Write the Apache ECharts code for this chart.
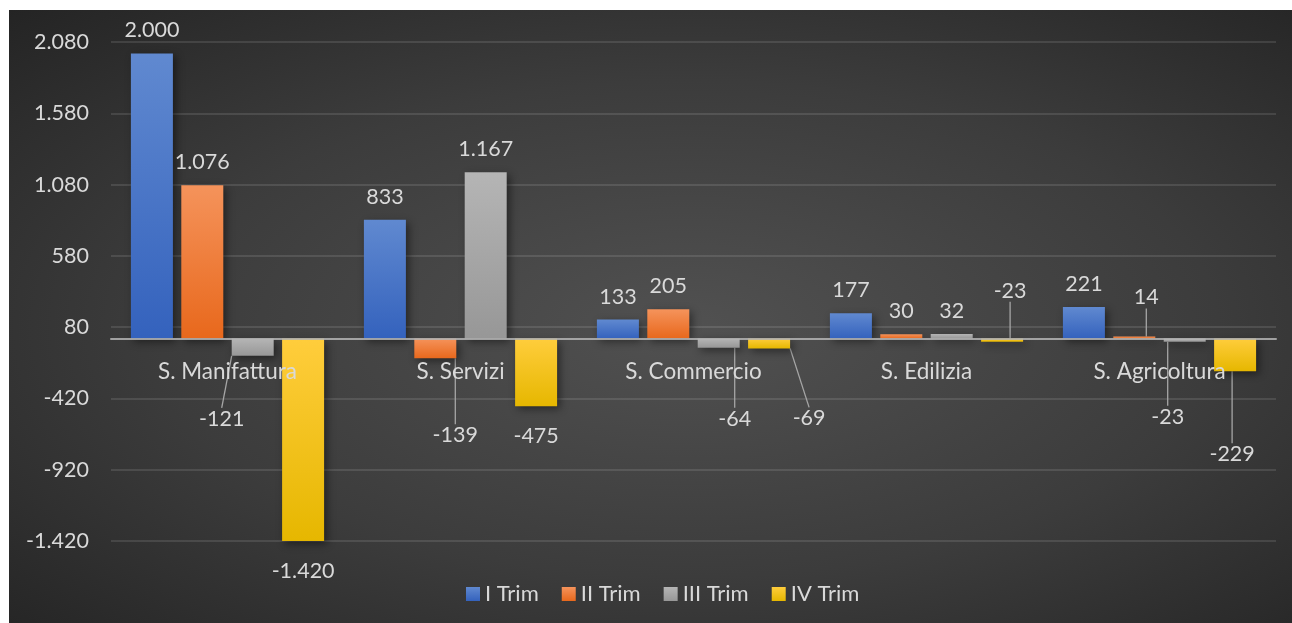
<!DOCTYPE html>
<html>
<head>
<meta charset="utf-8">
<script src="https://cdn.jsdelivr.net/npm/echarts@6/dist/echarts.min.js"></script>
<style>
  html, body { margin: 0; padding: 0; background: #fff; }
  #chart {
    position: absolute;
    left: 9px;
    top: 10px;
    width: 1283px;
    height: 613px;
    background: radial-gradient(ellipse at 53% 52%, #515151 0%, #3c3c3c 55%, #242424 100%);
  }
</style>
</head>
<body>
<div id="chart"></div>
<script>
const categories = ['S. Manifattura', 'S. Servizi', 'S. Commercio', 'S. Edilizia', 'S. Agricoltura']
const seriesNames = ['I Trim', 'II Trim', 'III Trim', 'IV Trim']
const trim1 = [2000, 833, 133, 177, 221]
const trim2 = [1076, -139, 205, 30, 14]
const trim3 = [-121, 1167, -64, 32, -23]
const trim4 = [-1420, -475, -69, -23, -229]
const yMin = -1420
const yMax = 2080
const yStep = 500

// manual callout offsets (seriesIndex:dataIndex -> [dx, dy])
const labelNudge = {
  '2:0': [-31, 33],
  '1:1': [20, 47],
  '2:2': [16, 41],
  '3:2': [40, 40],
  '3:3': [8, -81],
  '2:4': [-17, 45],
  '3:4': [-3, 53],
  '1:4': [12, -16],
}

const FONT = 'Lato, "Noto Sans", sans-serif'
const TEXT = '#d9d9d9'

const palette = [
  ['#6089d0', '#3462bd'],
  ['#f5935b', '#e8681c'],
  ['#b5b5b5', '#979797'],
  ['#ffcd3c', '#e6b700'],
]

function itNum(v) {
  const s = Math.abs(v).toString().replace(/\B(?=(\d{3})+(?!\d))/g, '.')
  return (v < 0 ? '-' : '') + s
}

function grad(c) {
  return new echarts.graphic.LinearGradient(0, 0, 0, 1, [
    { offset: 0, color: c[0] },
    { offset: 1, color: c[1] },
  ])
}

const allValues = [trim1, trim2, trim3, trim4]

const series = allValues.map((vals, si) => ({
  name: seriesNames[si],
  type: 'bar',
  barWidth: 42,
  barGap: '20%',
  itemStyle: {
    color: grad(palette[si]),
    shadowBlur: 8,
    shadowColor: 'rgba(0,0,0,0.45)',
    shadowOffsetX: 3,
    shadowOffsetY: 3,
  },
  label: {
    show: true,
    position: 'outside',
    distance: 12,
    color: TEXT,
    fontFamily: FONT,
    fontSize: 21.5,
    formatter: (p) => itNum(p.value),
  },
  labelLine: { show: false },
  labelLayout: (p) => {
    const n = labelNudge[p.seriesIndex + ':' + p.dataIndex]
    return n ? { dx: n[0], dy: n[1] } : {}
  },
  data: vals.map((v, i) => {
    const item = { value: v }
    if (v < 0) item.label = { distance: 19 }
    if (labelNudge[si + ':' + i]) {
      item.labelLine = { show: true, lineStyle: { color: '#a6a6a6', width: 1.3 } }
    }
    return item
  }),
}))

const chart = echarts.init(document.getElementById('chart'))
chart.setOption({
  backgroundColor: 'transparent',
  animation: false,
  grid: { left: 102, right: 16, top: 32, bottom: 82 },
  legend: {
    data: seriesNames,
    left: 452,
    top: 568,
    icon: 'rect',
    itemWidth: 14,
    itemHeight: 14,
    itemGap: 23,
    textStyle: { color: TEXT, fontFamily: FONT, fontSize: 22 },
  },
  xAxis: {
    type: 'category',
    data: categories,
    z: 5,
    axisTick: { show: false },
    axisLine: { onZero: true, lineStyle: { color: '#b4b4b4', width: 2, opacity: 0.85 } },
    axisLabel: {
      interval: 0,
      margin: -181,
      color: TEXT,
      fontFamily: FONT,
      fontSize: 22.5,
    },
  },
  yAxis: {
    type: 'value',
    min: yMin,
    max: yMax,
    interval: yStep,
    axisLine: { show: false },
    axisTick: { show: false },
    axisLabel: {
      margin: 22,
      color: TEXT,
      fontFamily: FONT,
      fontSize: 21.5,
      formatter: (v) => itNum(v),
    },
    splitLine: { lineStyle: { color: 'rgba(255,255,255,0.11)', width: 2 } },
  },
  series,
})
</script>
</body>
</html>
